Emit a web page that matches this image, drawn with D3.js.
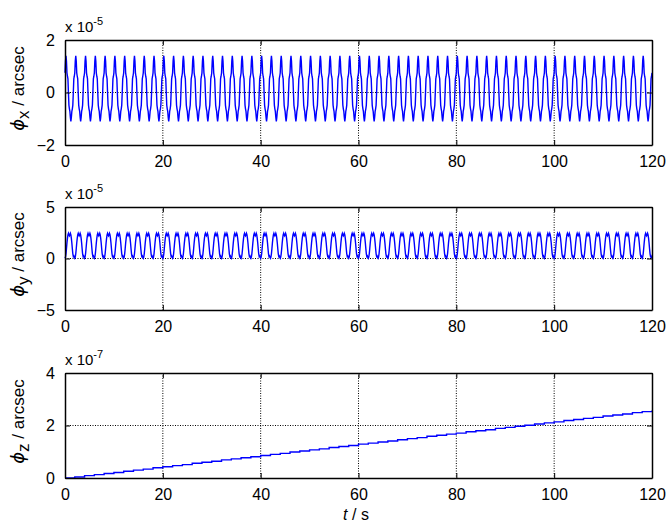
<!DOCTYPE html>
<html><head><meta charset="utf-8">
<script src="https://cdn.jsdelivr.net/npm/d3@7"></script>
<style>body{margin:0;background:#fff}svg{display:block}text{font-family:Arial,"Liberation Sans",sans-serif}</style>
</head><body><div id="c"></div>
<script>
// time axis
const xTicks = [0, 20, 40, 60, 80, 100, 120];
const period = 2;          // s, one oscillation cycle
const cycles = 60;
const step = 0.1;
// one cycle of phi_x (units 1e-5 arcsec), sampled every 0.1 s
const phiXCycle = [0.75, 1.20, 1.40, 1.20, 0.75, 0.62, 0.52, 0.00, -0.48, -0.62, -0.72, -0.95, -1.10, -0.95, -0.72, -0.62, -0.48, 0.00, 0.52, 0.62];
// one cycle of phi_y (units 1e-5 arcsec), sampled every 0.1 s
const phiYCycle = [0.02, 0.15, 0.45, 0.95, 1.50, 1.95, 2.30, 2.45, 2.30, 2.20, 2.30, 2.45, 2.30, 1.95, 1.50, 0.95, 0.45, 0.20, 0.25, 0.10];
// phi_z (units 1e-7 arcsec), read every 2 s
const phiZ = [0.00,0.04,0.09,0.13,0.17,0.21,0.26,0.30,0.34,0.39,0.43,0.47,0.51,0.56,0.60,0.64,0.69,0.73,0.77,0.81,0.86,0.90,0.94,0.99,1.03,1.07,1.11,1.16,1.20,1.24,1.29,1.33,1.37,1.41,1.46,1.50,1.54,1.59,1.63,1.67,1.71,1.76,1.80,1.84,1.89,1.93,1.97,2.01,2.06,2.10,2.14,2.19,2.23,2.27,2.31,2.36,2.40,2.44,2.49,2.53,2.57];
const yTicksX = [-2, 0, 2];
const yTicksY = [-5, 0, 5];
const yTicksZ = [0, 2, 4];

function tile(cyc){
  const out=[];
  for(let c=0;c<cycles;c++) cyc.forEach((v,i)=>out.push({t:c*period+i*step,v}));
  out.push({t:cycles*period,v:cyc[0]});
  return out;
}
const dX = tile(phiXCycle), dY = tile(phiYCycle);
const dZ = phiZ.map((v,i)=>({t:i*period,v}));

const W=667,H=525;
const svg=d3.select("#c").append("svg").attr("width",W).attr("height",H);
const x=d3.scaleLinear().domain([0,120]).range([65,652]);
const FF="Arial, 'Liberation Sans', sans-serif";

const panels=[
 {top:40,bot:145,dom:[-2,2],ticks:yTicksX,data:dX,exp:"-5",sub:"x",curve:d3.curveLinear},
 {top:207,bot:310,dom:[-5,5],ticks:yTicksY,data:dY,exp:"-5",sub:"y",curve:d3.curveLinear},
 {top:373,bot:478,dom:[0,4],ticks:yTicksZ,data:dZ,exp:"-7",sub:"z",curve:d3.curveStepAfter}
];

panels.forEach(p=>{
  const y=d3.scaleLinear().domain(p.dom).range([p.bot,p.top]);
  const g=svg.append("g");
  // grid
  xTicks.slice(1,-1).forEach(t=>g.append("line").attr("x1",x(t)).attr("x2",x(t)).attr("y1",p.top).attr("y2",p.bot)
     .attr("stroke","#000").attr("stroke-width",1).attr("stroke-dasharray","1,1.5"));
  p.ticks.slice(1,-1).forEach(t=>g.append("line").attr("x1",65).attr("x2",652).attr("y1",y(t)).attr("y2",y(t))
     .attr("stroke","#000").attr("stroke-width",1).attr("stroke-dasharray","1,1.5"));
  // data
  g.append("path").datum(p.data).attr("fill","none").attr("stroke","#0000ff").attr("stroke-width",1.4)
    .attr("d",d3.line().x(d=>x(d.t)).y(d=>y(d.v)).curve(p.curve));
  // axes
  const fmt=d3.format("d");
  const gb=g.append("g").attr("transform",`translate(0,${p.bot})`).call(d3.axisBottom(x).tickValues(xTicks).tickFormat(fmt).tickSizeInner(-5).tickSizeOuter(0).tickPadding(11));
  const gt=g.append("g").attr("transform",`translate(0,${p.top})`).call(d3.axisTop(x).tickValues(xTicks).tickSizeInner(-5).tickSizeOuter(0).tickFormat(""));
  const gl=g.append("g").attr("transform","translate(65,0)").call(d3.axisLeft(y).tickValues(p.ticks).tickFormat(fmt).tickSizeInner(-5).tickSizeOuter(0).tickPadding(10));
  const gr=g.append("g").attr("transform","translate(652,0)").call(d3.axisRight(y).tickValues(p.ticks).tickSizeInner(-5).tickSizeOuter(0).tickFormat(""));
  [gb,gt,gl,gr].forEach(a=>{a.attr("font-size",16).select(".domain").attr("stroke","#000").attr("stroke-width",1.5);
     a.selectAll(".tick line").attr("stroke","#000");
     a.selectAll("text").attr("font-size",16).attr("fill","#000").style("font-family",FF);});
  // exponent
  const e=g.append("text").attr("x",65).attr("y",p.top-8).attr("font-size",15).attr("fill","#000");
  e.append("tspan").text("x 10");
  e.append("tspan").attr("dy",-7).attr("font-size",11).text(p.exp);
  // y label
  const yl=g.append("text").attr("transform",`translate(24,${(p.top+p.bot)/2-4}) rotate(-90)`).attr("text-anchor","middle").attr("font-size",17).attr("fill","#000");
  yl.append("tspan").attr("font-style","italic").attr("font-family","'DejaVu Sans',sans-serif").attr("font-size",18).text("ϕ");
  yl.append("tspan").attr("dy",5).attr("font-size",17).text(p.sub);
  yl.append("tspan").attr("dy",-5).text(" / arcsec");
});
const xl=svg.append("text").attr("x",356).attr("y",520).attr("text-anchor","middle").attr("font-size",16).attr("fill","#000");
xl.append("tspan").attr("font-style","italic").text("t");
xl.append("tspan").text("  / s");
</script></body></html>
